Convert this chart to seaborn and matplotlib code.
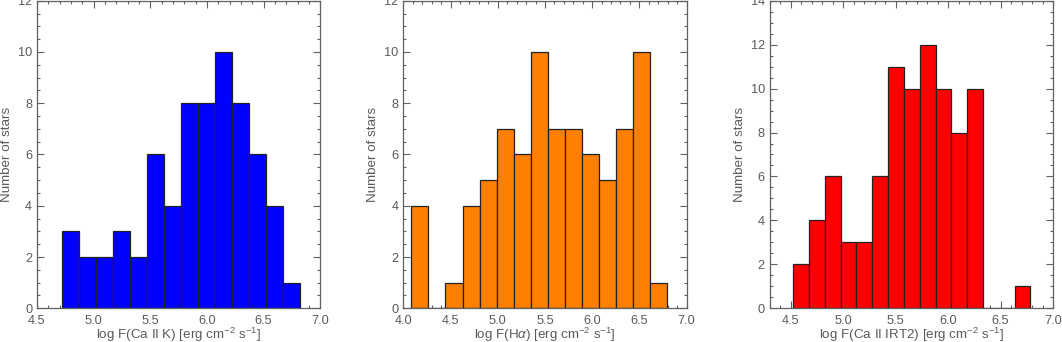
import matplotlib
matplotlib.use("Agg")
import matplotlib.pyplot as plt
from matplotlib.ticker import MultipleLocator
import numpy as np
import pandas as pd
import seaborn as sns

# ---- data ----
cak_start, cak_width = 4.723, 0.150
cak_counts = [3, 2, 2, 3, 2, 6, 4, 8, 8, 10, 8, 6, 4, 1]

ha_start, ha_width = 4.085, 0.1807
ha_counts = [4, 0, 1, 4, 5, 7, 6, 10, 7, 7, 6, 5, 7, 10, 1]

irt_start, irt_width = 4.523, 0.1508
irt_counts = [2, 4, 6, 3, 3, 6, 11, 10, 12, 10, 8, 10, 0, 0, 1]

xlabels = [r"log F(Ca II K) [erg cm$^{-2}$ s$^{-1}$]",
           r"log F(H$\alpha$) [erg cm$^{-2}$ s$^{-1}$]",
           r"log F(Ca II IRT2) [erg cm$^{-2}$ s$^{-1}$]"]
ylabel = "Number of stars"
colors = ["#0000FF", "#FF8000", "#FF0000"]
xlims = [(4.5, 7.0), (4.0, 7.0), (4.3, 7.0)]
ylims = [(0, 12), (0, 12), (0, 14)]

sns.set_style("ticks")
plt.rcParams["font.family"] = ["Liberation Sans", "DejaVu Sans"]
plt.rcParams["mathtext.fontset"] = "custom"
plt.rcParams["mathtext.rm"] = "Liberation Sans"
plt.rcParams["mathtext.it"] = "Liberation Sans:italic"
plt.rcParams["mathtext.bf"] = "Liberation Sans:bold"

TXT = "#5a5a5a"
SP = "#606060"

fig = plt.figure(figsize=(10.62, 3.42), dpi=100)
lefts = [37 / 1062, 403.3 / 1062, 769.7 / 1062]
width = 283.3 / 1062
bottom = (342 - 308.3) / 342
height = 308.3 / 342 - 0.002

datasets = [(cak_start, cak_width, cak_counts),
            (ha_start, ha_width, ha_counts),
            (irt_start, irt_width, irt_counts)]

for i, (start, w, counts) in enumerate(datasets):
    ax = fig.add_axes([lefts[i], bottom, width, height])
    n = len(counts)
    edges = start + w * np.arange(n + 1)
    centers = (edges[:-1] + edges[1:]) / 2
    df = pd.DataFrame({"x": centers, "n": counts})
    sns.histplot(data=df, x="x", weights="n", bins=[float(e) for e in edges],
                 ax=ax, color=colors[i], alpha=1.0, edgecolor="#222222",
                 linewidth=0.9)
    ax.set_xlim(*xlims[i])
    ax.set_ylim(*ylims[i])
    ax.xaxis.set_major_locator(MultipleLocator(0.5))
    ax.xaxis.set_minor_locator(MultipleLocator(0.1))
    ax.yaxis.set_major_locator(MultipleLocator(2))
    ax.yaxis.set_minor_locator(MultipleLocator(0.5))
    ax.xaxis.set_major_formatter(plt.FormatStrFormatter("%.1f"))
    ax.tick_params(which="both", direction="in", top=True, right=True,
                   color=SP, width=0.8, labelcolor=TXT, labelsize=9.2)
    ax.tick_params(which="major", length=5)
    ax.tick_params(which="minor", length=2.5)
    ax.tick_params(axis="x", which="major", pad=4.8)
    ax.tick_params(axis="y", which="major", pad=3.5)
    for s in ax.spines.values():
        s.set_color(SP)
        s.set_linewidth(0.9)
    ax.set_xlabel(xlabels[i], color=TXT, fontsize=9.6)
    ax.set_ylabel(ylabel, color=TXT, fontsize=9.6)
    ax.xaxis.label.set_va("baseline")
    ax.xaxis.set_label_coords(0.5, -0.099)
    ax.yaxis.set_label_coords(-0.085, 0.5)

fig.savefig("out.png", dpi=100)
